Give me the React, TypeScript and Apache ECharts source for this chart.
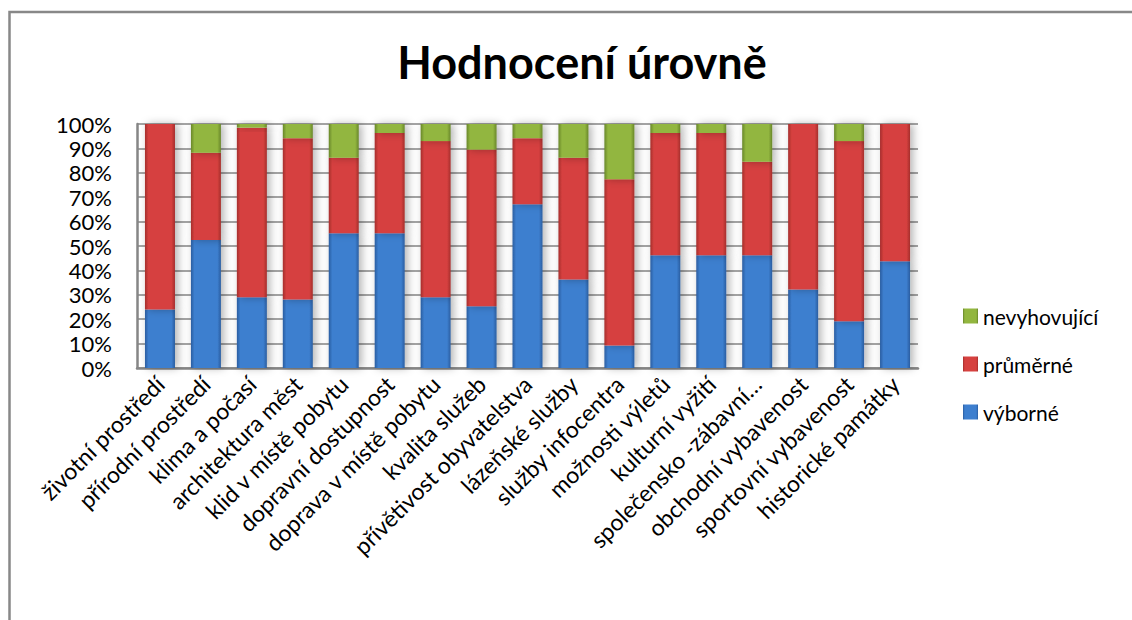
import React, { useEffect, useRef } from "react";
import * as echarts from "echarts";

const categories = [
  "životní prostředí",
  "přírodní prostředí",
  "klima a počasí",
  "architektura měst",
  "klid v místě pobytu",
  "dopravní dostupnost",
  "doprava v místě pobytu",
  "kvalita služeb",
  "přívětivost obyvatelstva",
  "lázeňské služby",
  "služby infocentra",
  "možnosti výletů",
  "kulturní vyžití",
  "společensko -zábavní…",
  "obchodní vybavenost",
  "sportovní vybavenost",
  "historické památky",
];

const vyborne = [24.0, 52.5, 29.0, 28.1, 55.2, 55.2, 29.0, 25.3, 67.1, 36.3, 9.2, 46.2, 46.2, 46.2, 32.2, 19.2, 43.8];
const prumerne = [76.0, 35.7, 69.5, 66.1, 31.0, 41.1, 64.0, 64.2, 27.1, 49.9, 68.2, 50.1, 50.1, 38.3, 67.8, 73.8, 56.2];
const nevyhovujici = [0, 11.8, 1.5, 5.8, 13.8, 3.7, 7.0, 10.5, 5.8, 13.8, 22.6, 3.7, 3.7, 15.5, 0, 7.0, 0];

const seriesNames = ["výborné", "průměrné", "nevyhovující"];
const legendOrder = ["nevyhovující", "průměrné", "výborné"];
const yTicks = [0, 10, 20, 30, 40, 50, 60, 70, 80, 90, 100];

const FONT = "Lato, 'Open Sans', sans-serif";

function grad(edge: string, mid: string) {
  return new echarts.graphic.LinearGradient(0, 0, 1, 0, [
    { offset: 0, color: edge },
    { offset: 0.12, color: mid },
    { offset: 0.88, color: mid },
    { offset: 1, color: edge },
  ]);
}

export default function App() {
  const ref = useRef<HTMLDivElement>(null);
  useEffect(() => {
    if (!ref.current) return;
    const chart = echarts.init(ref.current, undefined, { renderer: "svg" });
    const shadow = {
      shadowColor: "rgba(0,0,0,0.3)",
      shadowBlur: 8,
      shadowOffsetX: 3,
      shadowOffsetY: 0,
    };
    const colors = [
      { edge: "#2a5da0", mid: "#3d7fcf", legend: "#3a78c4" },
      { edge: "#a52e2c", mid: "#d6413f", legend: "#c73b39" },
      { edge: "#68862a", mid: "#92b63f", legend: "#84a83a" },
    ];
    const dataSets = [vyborne, prumerne, nevyhovujici];
    chart.setOption({
      animation: false,
      backgroundColor: "#ffffff",
      title: {
        text: "Hodnocení úrovně",
        left: 577,
        textAlign: "center",
        top: 34,
        textStyle: { fontFamily: FONT, fontWeight: "bold", fontSize: 45, color: "#000" },
      },
      graphic: [
        {
          type: "rect",
          shape: { x: 9.5, y: 12, width: 1140, height: 640 },
          style: { fill: "none", stroke: "#888888", lineWidth: 2.5 },
          silent: true,
        },
      ],
      legend: {
        orient: "vertical",
        left: 958,
        top: 300,
        itemWidth: 15,
        itemHeight: 15,
        itemGap: 26,
        icon: "rect",
        data: legendOrder,
        textStyle: { fontFamily: FONT, fontSize: 21, color: "#000", lineHeight: 22 },
      },
      grid: { left: 137, right: 214, top: 124, bottom: 252 },
      xAxis: {
        type: "category",
        data: categories,
        axisLine: { show: true, lineStyle: { color: "#868686", width: 2.5 } },
        axisTick: { show: false },
        axisLabel: {
          interval: 0,
          rotate: 45,
          margin: 12,
          fontFamily: FONT,
          fontSize: 23,
          color: "#000",
        },
      },
      yAxis: {
        type: "value",
        min: 0,
        max: 100,
        interval: 10,
        axisLine: { show: true, lineStyle: { color: "#868686", width: 2.5 } },
        axisTick: { show: false },
        splitLine: { show: true, lineStyle: { color: "#868686", width: 1.5 } },
        axisLabel: {
          formatter: (v: number) => (yTicks.includes(v) ? v + "%" : ""),
          margin: 25,
          fontFamily: FONT,
          fontSize: 22,
          color: "#000",
        },
      },
      series: seriesNames.map((name, i) => ({
        name,
        type: "bar",
        stack: "total",
        barWidth: 30,
        data: dataSets[i],
        color: colors[i].legend,
        itemStyle: {
          color: grad(colors[i].edge, colors[i].mid),
          ...shadow,
        },
      })),
    });
    return () => chart.dispose();
  }, []);
  return (
    <div
      ref={ref}
      style={{ position: "fixed", left: 0, top: 0, width: 1132, height: 620 }}
    />
  );
}
